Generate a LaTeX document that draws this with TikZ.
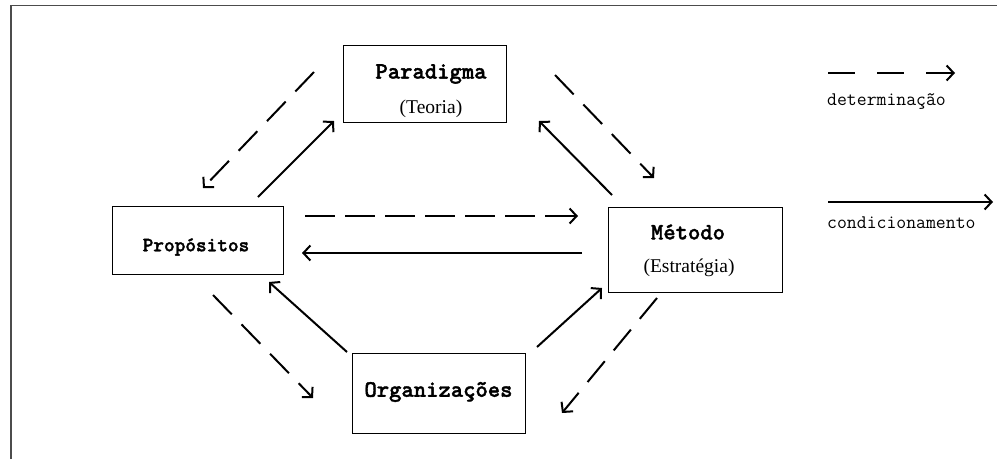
\documentclass[tikz,border=0pt]{standalone}
\usepackage{fontspec}
\newfontfamily\subfont{Liberation Serif}
\newfontfamily\ttheavy{lmmonolt10-bold.otf}[FakeBold=1.6]
\usetikzlibrary{arrows.meta}
\tikzset{
  box/.style={draw, line width=1pt, rectangle, inner sep=0pt},
  title/.style={font=\ttheavy\fontsize{23.5pt}{25pt}\selectfont, inner sep=0pt, anchor=center},
  sub/.style={font=\subfont\fontsize{19.5pt}{21pt}\selectfont, inner sep=0pt, anchor=center},
  legtext/.style={font=\ttfamily\fontsize{19.2pt}{20pt}\selectfont, inner sep=0pt, anchor=west},
  cond/.style={line width=2pt, -{Straight Barb[length=7pt,width=15pt]}},
  det/.style={cond, dash pattern=on 27pt off 14pt},
  deth/.style={cond, dash pattern=on 30pt off 10pt},
}
\begin{document}
\begin{tikzpicture}[x=1pt,y=-1pt]
\useasboundingbox (0,0) rectangle (997,459);
\fill[white] (0,0) rectangle (997,459);
% frame
\draw[line width=1.3pt, black!70] (11,459) -- (11,5.5) -- (997,5.5);

% boxes
\node[box, minimum width=163pt, minimum height=77pt] (par) at (424.5,83.5) {};
\node[box, minimum width=174pt, minimum height=85pt] (met) at (695,249.5) {};
\node[box, minimum width=171pt, minimum height=68pt] (pro) at (197.5,240) {};
\node[box, minimum width=173pt, minimum height=80pt] (org) at (438.5,393) {};

% texts
\node[title] (parT) at (431,74) {Paradigma};
\node[sub] (parS) at (431,109) {(Teoria)};
\node[title] (metT) at (688,232) {Método};
\node[sub] (metS) at (689,268) {(Estratégia)};
\node[title, font=\ttheavy\fontsize{20.3pt}{22pt}\selectfont] (proT) at (196,247) {Propósitos};
\node[title] (orgT) at (438.5,392) {Organizações};

% arrow endpoints
\coordinate (a1s) at (314,72);  \coordinate (a1e) at (203,188);
\coordinate (a2s) at (258,197); \coordinate (a2e) at (334,121);
\coordinate (a3s) at (555,75);  \coordinate (a3e) at (654,178);
\coordinate (a4s) at (612,195); \coordinate (a4e) at (539,121);
\coordinate (a5s) at (305,216); \coordinate (a5e) at (578,216);
\coordinate (a6s) at (582,253); \coordinate (a6e) at (302,253);
\coordinate (a7s) at (213,295); \coordinate (a7e) at (313,398);
\coordinate (a8s) at (347,352); \coordinate (a8e) at (269,282);
\coordinate (a9s) at (537,347); \coordinate (a9e) at (602,288);
\coordinate (a10s) at (657,298); \coordinate (a10e) at (562,413);

\draw[det] (a1s) -- (a1e);
\draw[cond] (a2s) -- (a2e);
\draw[det] (a3s) -- (a3e);
\draw[cond] (a4s) -- (a4e);
\draw[deth] (a5s) -- (a5e);
\draw[cond] (a6s) -- (a6e);
\draw[det] (a7s) -- (a7e);
\draw[cond] (a8s) -- (a8e);
\draw[cond] (a9s) -- (a9e);
\draw[det] (a10s) -- (a10e);

% legend
\coordinate (l1s) at (828,73); \coordinate (l1e) at (955,73);
\coordinate (l2s) at (828,202); \coordinate (l2e) at (993,202);
\draw[cond, dash pattern=on 27pt off 22pt] (l1s) -- (l1e);
\draw[cond] (l2s) -- (l2e);
\node[legtext] (l1t) at (827,102) {determinação};
\node[legtext] (l2t) at (827,223) {condicionamento};
\end{tikzpicture}
\end{document}
